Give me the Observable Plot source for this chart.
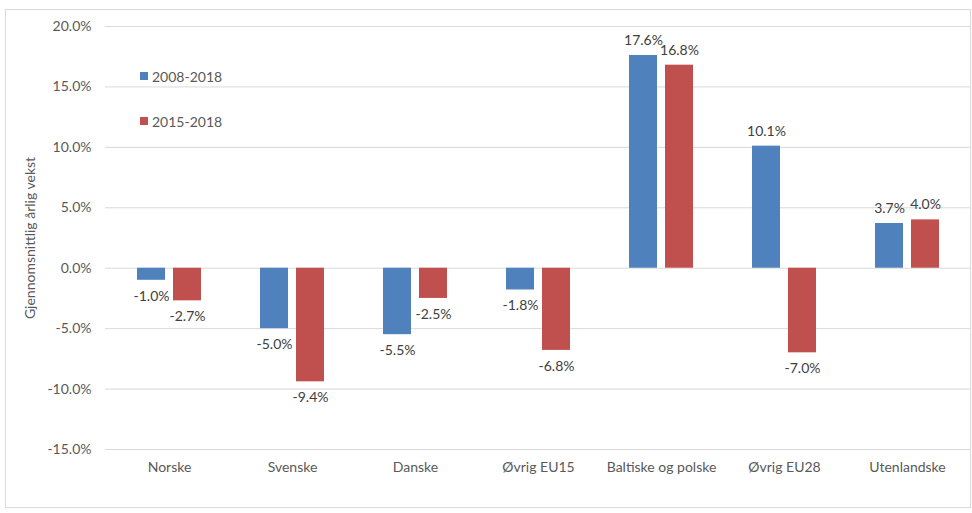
<!DOCTYPE html>
<html><head><meta charset="utf-8">
<script src="https://cdn.jsdelivr.net/npm/d3@7"></script>
<script src="https://cdn.jsdelivr.net/npm/@observablehq/plot@0.6"></script>
<style>
body{margin:0;background:#fff;font-family:Lato,"Open Sans",sans-serif;}
#wrap{position:relative;width:972px;height:513px;}
#border{position:absolute;left:5px;top:9px;width:964px;height:497px;border:1px solid #d9d9d9;pointer-events:none;}
#legend{position:absolute;left:140px;top:0;font-size:14px;color:#595959;}
#legend .item{position:absolute;left:0;white-space:nowrap;display:flex;align-items:center;height:16px;}
#legend .sw{width:8px;height:8px;margin-right:4px;display:inline-block;}
</style></head>
<body>
<div id="wrap"><div id="border"></div><div id="chart"></div><div id="legend"></div></div>
<script>
const categories = ["Norske","Svenske","Danske","Øvrig EU15","Baltiske og polske","Øvrig EU28","Utenlandske"];
const seriesNames = ["2008-2018","2015-2018"];
const values2008_2018 = [-1.0,-5.0,-5.5,-1.8,17.6,10.1,3.7];
const values2015_2018 = [-2.7,-9.4,-2.5,-6.8,16.8,-7.0,4.0];
const seriesColors = ["#4f81bd","#c0504d"];
const yTicks = [-15,-10,-5,0,5,10,15,20];
const yLabel = "Gjennomsnittlig årlig vekst";

const seriesValues = [values2008_2018, values2015_2018];
const fmt = d => d.toFixed(1) + "%";
const rows = seriesValues.map((vals, s) => categories.map((c, i) => ({cat: c, series: seriesNames[s], value: vals[i]})));

const offsets = [-18, 18];
const marks = [Plot.ruleY(yTicks, {stroke: "#d9d9d9", strokeWidth: 1})];
rows.forEach((data, s) => {
  marks.push(Plot.barY(data, {x: "cat", y: "value", fill: seriesColors[s], dx: offsets[s]}));
  marks.push(Plot.text(data.filter(d => d.value >= 0), {x: "cat", y: "value", text: d => fmt(d.value), dx: offsets[s], dy: -15, fill: "#404040", fontSize: 14}));
  marks.push(Plot.text(data.filter(d => d.value < 0), {x: "cat", y: "value", text: d => fmt(d.value), dx: offsets[s], dy: 16, fill: "#404040", fontSize: 14}));
});

const chart = Plot.plot({
  width: 972, height: 513,
  marginLeft: 105, marginRight: 1, marginTop: 26, marginBottom: 64,
  style: {fontFamily: "Lato, 'Open Sans', sans-serif", fontSize: "14px", color: "#595959", background: "transparent"},
  x: {domain: categories, paddingInner: 0.774, paddingOuter: 0.387, tickSize: 0, tickPadding: 13, label: null},
  y: {domain: [-15, 20], ticks: yTicks, tickFormat: fmt, tickSize: 0, tickPadding: 14, label: yLabel, labelArrow: false, labelAnchor: "center", labelOffset: 80},
  marks
});
document.getElementById("chart").appendChild(chart);

const legend = document.getElementById("legend");
seriesNames.forEach((name, s) => {
  const it = document.createElement("div");
  it.className = "item";
  it.style.top = (68 + s * 45) + "px";
  it.innerHTML = `<span class="sw" style="background:${seriesColors[s]}"></span><span>${name}</span>`;
  legend.appendChild(it);
});
</script>
</body></html>
